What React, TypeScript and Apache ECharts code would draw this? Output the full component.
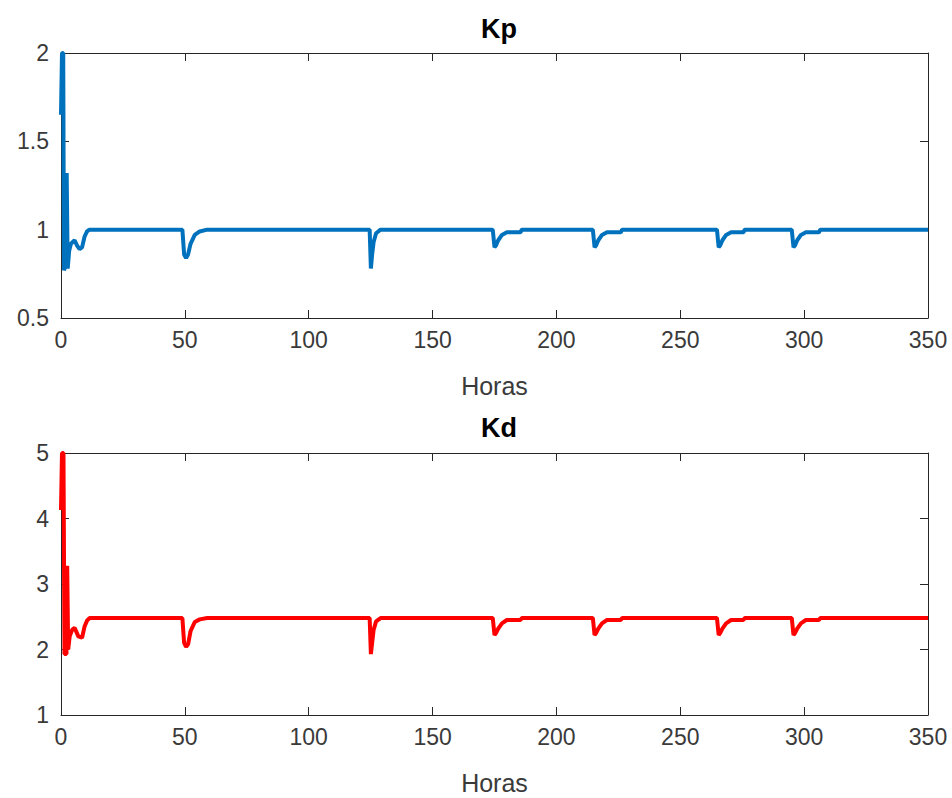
import React, { useEffect, useRef } from "react";
import * as echarts from "echarts";

// Kp series (hours, value)
const kpHours = [0, 0.4, 0.9, 1.2, 2.0, 2.3, 2.7, 3.3, 4.0, 5.5, 6.5, 7.5, 8.5, 9.5, 10.5, 11.5,
  49, 49.7, 50.5, 51.3, 52.3, 54, 56, 59,
  124.6, 125.1, 125.6, 126.2, 127.2, 129,
  174.3, 175.0, 175.6, 176.5, 178.0, 180.0, 185.5, 186,
  214.7, 215.4, 216.0, 216.9, 218.4, 220.4, 226, 226.5,
  264.8, 265.5, 266.1, 267.0, 268.5, 270.5, 275.5, 276,
  295, 295.7, 296.3, 297.2, 298.7, 300.7, 306, 306.5,
  350];
const kpValues = [1.65, 2.0, 2.0, 0.77, 0.8, 1.32, 0.78, 0.88, 0.92, 0.94, 0.91, 0.89, 0.9, 0.96, 0.99, 1.0,
  1.0, 0.86, 0.84, 0.86, 0.92, 0.97, 0.99, 1.0,
  1.0, 0.78, 0.86, 0.93, 0.98, 1.0,
  1.0, 0.9, 0.91, 0.94, 0.97, 0.985, 0.985, 1.0,
  1.0, 0.9, 0.91, 0.94, 0.97, 0.985, 0.985, 1.0,
  1.0, 0.9, 0.91, 0.94, 0.97, 0.985, 0.985, 1.0,
  1.0, 0.9, 0.91, 0.94, 0.97, 0.985, 0.985, 1.0,
  1.0];

// Kd series (hours, value)
const kdHours = [0, 0.4, 1.0, 1.4, 2.2, 2.5, 2.9, 3.5, 4.5, 5.5, 7, 8.5, 9.5, 10.5, 11.5,
  49, 49.7, 50.5, 51.3, 52.3, 54, 56, 59,
  124.6, 125.1, 125.6, 126.2, 127.2, 129,
  174.3, 175.0, 175.6, 176.5, 178.0, 180.0, 185.5, 186,
  214.7, 215.4, 216.0, 216.9, 218.4, 220.4, 226, 226.5,
  264.8, 265.5, 266.1, 267.0, 268.5, 270.5, 275.5, 276,
  295, 295.7, 296.3, 297.2, 298.7, 300.7, 306, 306.5,
  350];
const kdValues = [4.13, 5.0, 5.0, 1.93, 1.93, 3.28, 2.0, 2.2, 2.3, 2.33, 2.2, 2.18, 2.35, 2.44, 2.48,
  2.48, 2.1, 2.04, 2.08, 2.28, 2.42, 2.46, 2.48,
  2.48, 1.93, 2.1, 2.3, 2.43, 2.48,
  2.48, 2.22, 2.25, 2.32, 2.4, 2.45, 2.45, 2.48,
  2.48, 2.22, 2.25, 2.32, 2.4, 2.45, 2.45, 2.48,
  2.48, 2.22, 2.25, 2.32, 2.4, 2.45, 2.45, 2.48,
  2.48, 2.22, 2.25, 2.32, 2.4, 2.45, 2.45, 2.48,
  2.48];

const titles = ["Kp", "Kd"];
const xLabel = "Horas";

const FONT = "'Liberation Sans', Arial, Helvetica, sans-serif";
const AXIS = "#262626";
const LABEL = "#3a3a3a";

export default function App() {
  const ref = useRef<HTMLDivElement>(null);
  useEffect(() => {
    if (!ref.current) return;
    const chart = echarts.init(ref.current, undefined, { renderer: "svg" });
    const kpData = kpHours.map((h, i) => [h, kpValues[i]]);
    const kdData = kdHours.map((h, i) => [h, kdValues[i]]);

    const xMain = (gridIndex: number) => ({
      type: "value" as const,
      gridIndex,
      min: 0,
      max: 350,
      interval: 50,
      position: "bottom" as const,
      name: xLabel,
      nameLocation: "middle" as const,
      nameGap: 55,
      nameTextStyle: { fontSize: 25, color: LABEL, fontFamily: FONT },
      axisLine: { show: true, lineStyle: { color: AXIS, width: 1 } },
      axisTick: { show: true, inside: true, length: 8, lineStyle: { color: AXIS } },
      axisLabel: { fontSize: 23, color: LABEL, fontFamily: FONT, margin: 10 },
      splitLine: { show: false },
    });
    const xBox = (gridIndex: number) => ({
      type: "value" as const,
      gridIndex,
      min: 0,
      max: 350,
      interval: 50,
      position: "top" as const,
      axisLine: { show: true, onZero: false, lineStyle: { color: AXIS, width: 1 } },
      axisTick: { show: true, inside: true, length: 8, lineStyle: { color: AXIS } },
      axisLabel: { show: false },
      splitLine: { show: false },
    });
    const yMain = (gridIndex: number, min: number, max: number, interval: number) => ({
      type: "value" as const,
      gridIndex,
      min,
      max,
      interval,
      position: "left" as const,
      axisLine: { show: true, onZero: false, lineStyle: { color: AXIS, width: 1 } },
      axisTick: { show: true, inside: true, length: 8, lineStyle: { color: AXIS } },
      axisLabel: { fontSize: 23, color: LABEL, fontFamily: FONT, margin: 12 },
      splitLine: { show: false },
    });
    const yBox = (gridIndex: number, min: number, max: number, interval: number) => ({
      type: "value" as const,
      gridIndex,
      min,
      max,
      interval,
      position: "right" as const,
      axisLine: { show: true, onZero: false, lineStyle: { color: AXIS, width: 1 } },
      axisTick: { show: true, inside: true, length: 8, lineStyle: { color: AXIS } },
      axisLabel: { show: false },
      splitLine: { show: false },
    });

    chart.setOption({
      animation: false,
      backgroundColor: "#ffffff",
      title: [
        {
          text: titles[0],
          left: 494,
          top: 10,
          textAlign: "center",
          textStyle: { fontSize: 27, fontWeight: "bold", color: "#000", fontFamily: FONT },
        },
        {
          text: titles[1],
          left: 494,
          top: 409,
          textAlign: "center",
          textStyle: { fontSize: 27, fontWeight: "bold", color: "#000", fontFamily: FONT },
        },
      ],
      grid: [
        { left: 61, top: 53, width: 867, height: 265 },
        { left: 61, top: 453, width: 867, height: 262 },
      ],
      xAxis: [xMain(0), xBox(0), xMain(1), xBox(1)],
      yAxis: [yMain(0, 0.5, 2, 0.5), yBox(0, 0.5, 2, 0.5), yMain(1, 1, 5, 1), yBox(1, 1, 5, 1)],
      series: [
        {
          type: "line",
          xAxisIndex: 0,
          yAxisIndex: 0,
          data: kpData,
          showSymbol: false,
          symbol: "none",
          lineStyle: { color: "#0072BD", width: 4 },
          clip: true,
        },
        {
          type: "line",
          xAxisIndex: 2,
          yAxisIndex: 2,
          data: kdData,
          showSymbol: false,
          symbol: "none",
          lineStyle: { color: "#FF0000", width: 4 },
          clip: true,
        },
      ],
    });
    return () => chart.dispose();
  }, []);
  return (
    <div
      ref={ref}
      style={{ position: "fixed", left: 0, top: 0, width: 952, height: 798, background: "#fff" }}
    />
  );
}
